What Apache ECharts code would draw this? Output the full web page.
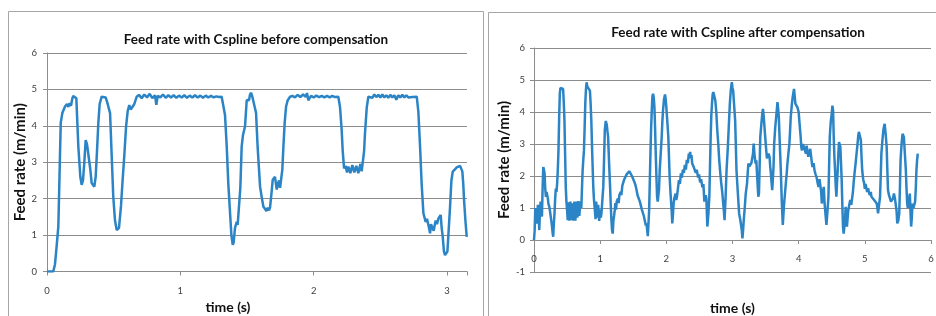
<!DOCTYPE html>
<html>
<head>
<meta charset="utf-8">
<script src="https://cdn.jsdelivr.net/npm/echarts@6/dist/echarts.min.js"></script>
<style>
  html, body { margin: 0; padding: 0; background: #fff; }
  #chart { width: 936px; height: 316px; }
</style>
</head>
<body>
<div id="chart"></div>
<script>
// before compensation (left panel)
const beforeTime = [0, 0.047, 0.06, 0.07, 0.085, 0.095, 0.103, 0.115, 0.135, 0.15, 0.16, 0.17, 0.18, 0.19, 0.197, 0.21, 0.22,
  0.235, 0.25, 0.26, 0.27, 0.28, 0.29, 0.30, 0.315, 0.325, 0.335, 0.345, 0.355, 0.365, 0.375, 0.385, 0.395, 0.41, 0.425, 0.44,
  0.455, 0.473, 0.485, 0.497, 0.51, 0.523, 0.535, 0.54, 0.555, 0.567, 0.58, 0.593, 0.605, 0.617, 0.628, 0.64, 0.655, 0.673,
  0.69, 0.71, 0.73, 0.75, 0.77, 0.79, 0.81, 0.82, 0.83, 0.85, 0.87, 0.89, 0.91, 0.93, 0.95, 0.97, 0.99, 1.01, 1.03, 1.05, 1.07,
  1.09, 1.11, 1.13, 1.15, 1.17, 1.19, 1.21, 1.23, 1.25, 1.27, 1.29, 1.31, 1.323,
  1.335, 1.348, 1.36, 1.373, 1.383, 1.393, 1.40, 1.41, 1.423, 1.43, 1.44, 1.45, 1.46, 1.47, 1.485, 1.498, 1.507, 1.515, 1.522,
  1.53, 1.54, 1.55, 1.568, 1.58, 1.598, 1.61, 1.623, 1.635, 1.645, 1.655, 1.665, 1.673, 1.685, 1.693, 1.71, 1.723, 1.732, 1.74,
  1.748, 1.755, 1.765, 1.773, 1.783, 1.793, 1.805, 1.823,
  1.84, 1.86, 1.88, 1.90, 1.92, 1.94, 1.95, 1.96, 1.98, 2.00, 2.02, 2.04, 2.06, 2.08, 2.10, 2.12, 2.14, 2.16, 2.185,
  2.198, 2.21, 2.218, 2.228, 2.24, 2.25, 2.26, 2.275, 2.29, 2.305, 2.32, 2.335, 2.35, 2.36, 2.368, 2.378, 2.385, 2.398, 2.41,
  2.425, 2.44, 2.455, 2.47, 2.485, 2.5, 2.515, 2.53, 2.545, 2.56, 2.575, 2.59, 2.605, 2.62, 2.635, 2.65, 2.665, 2.68, 2.695,
  2.71, 2.725, 2.74, 2.755, 2.773,
  2.785, 2.798, 2.81, 2.823, 2.84, 2.85, 2.858, 2.865, 2.873, 2.88, 2.89, 2.9, 2.908, 2.915, 2.925, 2.935, 2.945, 2.953, 2.96,
  2.968, 2.977, 2.985, 2.995, 3.003, 3.012, 3.023, 3.033, 3.043, 3.058, 3.073, 3.085, 3.098, 3.108, 3.115, 3.122, 3.128, 3.138, 3.148];
const beforeRate = [0, 0, 0.2, 0.6, 1.23, 2.8, 4.08, 4.35, 4.53, 4.6, 4.52, 4.62, 4.55, 4.75, 4.82, 4.8, 4.76,
  3.43, 2.6, 2.38, 2.5, 3.0, 3.61, 3.5, 3.45, 2.8, 2.43, 2.38, 2.33, 2.6, 3.3, 4.08, 4.6, 4.8, 4.76, 4.78,
  4.6, 4.35, 3.2, 2.06, 1.4, 1.14, 1.12, 1.2, 1.8, 2.5, 3.2, 3.98, 4.4, 4.57, 4.45, 4.4, 4.6, 4.8,
  4.85, 4.76, 4.86, 4.78, 4.88, 4.76, 4.84, 4.58, 4.82, 4.78, 4.86, 4.77, 4.84, 4.78, 4.84, 4.77, 4.83, 4.78, 4.84, 4.77, 4.83,
  4.78, 4.84, 4.78, 4.83, 4.77, 4.83, 4.78, 4.82, 4.78, 4.81, 4.79, 4.8, 4.78,
  4.3, 3.43, 2.4, 1.6, 1.0, 0.73, 0.8, 1.2, 1.36, 1.28, 1.3, 2.3, 3.43, 3.75, 3.98, 4.71, 4.76, 4.7, 4.85,
  4.91, 4.8, 4.76, 4.35, 3.4, 2.33, 2.05, 1.78, 1.72, 1.66, 1.75, 1.68, 1.76, 2.2, 2.52, 2.6, 2.25, 2.4, 2.5,
  2.3, 2.33, 2.8, 3.43, 4.1, 4.53, 4.7, 4.8,
  4.82, 4.78, 4.85, 4.79, 4.86, 4.8, 4.9, 4.7, 4.82, 4.78, 4.83, 4.79, 4.82, 4.78, 4.82, 4.78, 4.82, 4.79, 4.8,
  4.5, 3.89, 3.3, 2.83, 2.9, 2.72, 2.88, 2.7, 2.92, 2.72, 2.9, 2.7, 2.95, 2.75, 2.8, 3.3, 3.8, 4.5, 4.8,
  4.84, 4.77, 4.86, 4.79, 4.85, 4.78, 4.86, 4.78, 4.84, 4.77, 4.85, 4.78, 4.84, 4.72, 4.84, 4.78, 4.85, 4.78, 4.84,
  4.78, 4.83, 4.79, 4.82, 4.8,
  4.4, 3.43, 2.4, 1.6, 1.36, 1.45, 1.4, 1.2, 1.05, 1.3, 1.3, 1.12, 1.08, 1.4, 1.3, 1.45, 1.5, 1.55, 1.2,
  0.96, 0.55, 0.45, 0.5, 0.55, 1.1, 1.78, 2.5, 2.74, 2.8, 2.86, 2.88, 2.9, 2.85, 2.75, 2.4, 1.96, 1.4, 0.95];

// after compensation (right panel)
const afterTime = [0, 0.01, 0.02, 0.03, 0.04, 0.05, 0.058, 0.065, 0.072, 0.08, 0.09, 0.10, 0.11, 0.12, 0.13, 0.14, 0.15, 0.16,
  0.17, 0.18, 0.19, 0.20, 0.21, 0.217, 0.23, 0.24, 0.255, 0.267, 0.28, 0.29, 0.30, 0.31, 0.32, 0.33, 0.34, 0.35, 0.36, 0.37,
  0.38, 0.39, 0.40, 0.41, 0.42, 0.43, 0.44, 0.45, 0.46, 0.47, 0.48, 0.49, 0.50, 0.51, 0.52, 0.535, 0.55, 0.565, 0.58, 0.595,
  0.61, 0.625, 0.64, 0.655, 0.67, 0.685, 0.70, 0.715, 0.725, 0.735, 0.745, 0.755, 0.765, 0.775, 0.785, 0.795, 0.805, 0.815,
  0.83, 0.845, 0.855, 0.866, 0.88, 0.896, 0.905, 0.92, 0.93, 0.94, 0.955, 0.97, 0.985, 1.0, 1.01, 1.02, 1.035, 1.047, 1.06,
  1.07, 1.085, 1.1, 1.11, 1.12, 1.135, 1.15, 1.16, 1.17, 1.18, 1.19, 1.2, 1.21, 1.22, 1.23, 1.24, 1.25, 1.26, 1.27, 1.28,
  1.29, 1.30, 1.31, 1.32, 1.335, 1.35, 1.365, 1.38, 1.40, 1.42, 1.44, 1.46, 1.48, 1.50, 1.52, 1.535, 1.55, 1.565, 1.58, 1.60,
  1.615, 1.63, 1.65, 1.66, 1.675, 1.69, 1.70, 1.72, 1.73, 1.74, 1.75, 1.76, 1.77, 1.78, 1.79, 1.80, 1.81, 1.82, 1.83, 1.84,
  1.85, 1.86, 1.87, 1.88, 1.89, 1.90, 1.915, 1.93, 1.94, 1.95, 1.965, 1.98, 1.99, 2.0, 2.015, 2.03, 2.04, 2.05, 2.065, 2.08,
  2.09, 2.10, 2.11, 2.12, 2.14, 2.15, 2.16, 2.175, 2.19, 2.205, 2.22, 2.235, 2.25, 2.265, 2.28, 2.295, 2.31, 2.325, 2.34,
  2.35, 2.36, 2.37, 2.38, 2.39, 2.40, 2.41, 2.43, 2.445, 2.46, 2.48, 2.495, 2.51, 2.525, 2.545, 2.56, 2.575, 2.585, 2.595,
  2.605, 2.62, 2.635, 2.65, 2.66, 2.67, 2.68, 2.69, 2.70, 2.71, 2.725, 2.74, 2.755, 2.77, 2.785, 2.80, 2.815, 2.83, 2.845,
  2.86, 2.87, 2.88, 2.895, 2.91, 2.93, 2.945, 2.96, 2.975, 2.99, 3.00, 3.01, 3.025, 3.04, 3.05, 3.06, 3.08, 3.10, 3.12, 3.14,
  3.15, 3.16, 3.17, 3.185, 3.20, 3.21, 3.22, 3.23, 3.24, 3.255, 3.27, 3.285, 3.30, 3.31, 3.32, 3.335, 3.35, 3.36, 3.375,
  3.39, 3.40, 3.41, 3.42, 3.435, 3.45, 3.46, 3.47, 3.48, 3.495, 3.51, 3.52, 3.53, 3.545, 3.56, 3.57, 3.58, 3.59, 3.60, 3.61,
  3.62, 3.63, 3.645, 3.66, 3.68, 3.69, 3.70, 3.715, 3.73, 3.745, 3.76, 3.77, 3.78, 3.795, 3.81, 3.82, 3.83, 3.845, 3.86,
  3.87, 3.88, 3.895, 3.91, 3.92, 3.93, 3.94, 3.95, 3.965, 3.98, 3.99, 4.0, 4.015, 4.03, 4.04, 4.05, 4.065, 4.08, 4.095, 4.11,
  4.12, 4.13, 4.145, 4.16, 4.175, 4.19, 4.20, 4.21, 4.225, 4.24, 4.255, 4.27, 4.285, 4.30, 4.315, 4.33, 4.34, 4.35, 4.365,
  4.38, 4.39, 4.40, 4.41, 4.42, 4.435, 4.45, 4.46, 4.47, 4.485, 4.50, 4.51, 4.52, 4.53, 4.54, 4.55, 4.56, 4.57, 4.58, 4.59,
  4.60, 4.61, 4.62, 4.63, 4.64, 4.65, 4.66, 4.67, 4.68, 4.69, 4.70, 4.71, 4.72, 4.73, 4.74, 4.75, 4.765, 4.78, 4.795, 4.81,
  4.82, 4.83, 4.845, 4.86, 4.875, 4.89, 4.90, 4.91, 4.925, 4.94, 4.95, 4.96, 4.975, 4.99, 5.0, 5.01, 5.02, 5.035, 5.05, 5.06,
  5.075, 5.09, 5.10, 5.115, 5.13, 5.14, 5.155, 5.17, 5.18, 5.19, 5.20, 5.215, 5.23, 5.24, 5.25, 5.265, 5.28, 5.29, 5.30,
  5.315, 5.33, 5.34, 5.35, 5.365, 5.38, 5.395, 5.41, 5.425, 5.44, 5.455, 5.47, 5.48, 5.49, 5.505, 5.52, 5.53, 5.54, 5.555,
  5.57, 5.58, 5.59, 5.605, 5.62, 5.63, 5.64, 5.65, 5.66, 5.67, 5.68, 5.69, 5.70, 5.71, 5.72, 5.735, 5.75, 5.76, 5.77, 5.78,
  5.79, 5.80];
const afterRate = [0, 0.3, 1.0, 0.93, 0.6, 0.52, 1.1, 1.14, 0.7, 0.31, 0.9, 1.2, 1.0, 0.73, 1.6, 2.28, 2.2, 2.08,
  1.6, 1.35, 1.5, 1.45, 1.3, 1.14, 1.05, 0.93, 0.7, 0.52, 0.25, 0.1, 0.5, 0.83, 1.3, 1.61, 1.5, 1.77, 2.2, 2.8,
  3.8, 4.57, 4.75, 4.72, 4.8, 4.78, 4.72, 4.3, 3.74, 2.7, 1.66, 1.2, 0.93, 0.62, 1.18, 0.6, 1.2, 0.62, 1.15, 0.6,
  1.2, 0.6, 1.2, 0.7, 1.22, 0.75, 1.2, 1.0, 1.6, 2.18, 2.5, 2.8, 3.5, 4.26, 4.7, 4.93, 4.8, 4.78,
  4.8, 4.67, 4.3, 3.74, 2.7, 1.66, 1.3, 0.93, 0.65, 1.2, 0.7, 1.1, 0.6, 0.95, 0.7, 0.85, 1.3, 1.66, 2.6,
  3.43, 3.72, 3.6, 3.4, 3.22, 2.4, 1.66, 1.1, 0.62, 0.3, 0.2, 0.6, 0.75, 0.93, 1.15, 0.95, 1.2, 1.14, 1.3, 1.15,
  1.4, 1.35, 1.5, 1.4, 1.7, 1.66, 1.9, 1.85, 2.05, 2.0, 2.15, 2.1, 2.0, 2.05, 1.8, 1.7, 1.56, 1.4, 1.35, 1.2,
  1.15, 0.95, 0.93, 0.75, 0.7, 0.45, 0.52, 0.12, 0.5, 0.93, 1.8, 2.7, 3.5, 4.05, 4.5, 4.57, 4.45, 4.15, 3.5, 2.7,
  2.0, 1.35, 1.2, 1.25, 1.6, 2.18, 2.7, 3.22, 3.7, 4.05, 4.4, 4.55, 4.4, 4.15, 3.7, 3.22, 2.6, 1.97, 1.4, 0.93,
  0.52, 0.8, 1.14, 1.3, 1.45, 1.25, 1.35, 1.6, 1.87, 1.75, 2.08, 1.95, 2.2, 2.1, 2.35, 2.2, 2.5, 2.4, 2.7,
  2.6, 2.75, 2.55, 2.65, 2.4, 2.45, 2.3, 2.35, 2.1, 2.2, 1.95, 2.05, 1.8, 1.9, 1.65, 1.75, 1.2, 1.14, 1.4,
  1.3, 0.42, 0.8, 1.35, 2.3, 3.22, 3.9, 4.26, 4.55, 4.62, 4.5, 4.36, 4.0, 3.43, 3.0, 2.49, 2.1, 1.77, 1.5,
  1.14, 0.9, 0.62, 1.3, 2.18, 2.91, 3.6, 4.26, 4.7, 4.93, 4.75, 4.67, 4.2, 3.74, 3.0, 2.18, 1.5, 0.83, 0.6, 0.31,
  0.05, 0.3, 0.62, 1.0, 1.45, 1.5, 1.77, 2.1, 2.39, 2.3, 2.28, 2.4, 2.44, 2.7, 3.01, 2.6, 2.39, 2.49, 1.9,
  1.35, 1.45, 2.3, 3.22, 3.6, 3.95, 4.1, 3.9, 3.63, 3.2, 2.8, 2.55, 2.49, 2.7, 2.6, 2.3, 2.08, 1.8, 1.56, 1.9,
  2.28, 3.01, 3.5, 3.84, 4.31, 4.1, 3.84, 3.0, 2.18, 1.2, 0.47, 0.8, 1.14, 1.5, 1.87, 2.1, 2.39, 2.7, 3.01,
  3.4, 3.84, 4.2, 4.47, 4.6, 4.72, 4.5, 4.26, 4.2, 4.15, 4.1, 4.0, 3.6, 3.22, 2.9, 2.8, 3.0, 3.01, 2.8, 2.7,
  2.95, 2.91, 2.6, 2.6, 2.85, 2.8, 2.4, 2.28, 2.4, 2.18, 2.05, 1.97, 1.8, 1.66, 1.9, 1.87, 1.5, 1.14, 1.5,
  1.66, 1.2, 0.93, 0.7, 0.47, 0.9, 1.35, 2.3, 3.22, 3.7, 3.95, 4.2, 4.05, 3.22, 2.6, 2.18, 1.7, 1.35, 1.8, 2.18,
  2.7, 3.06, 3.0, 2.91, 2.4, 1.87, 1.1, 0.42, 0.2, 0.16, 0.6, 1.04, 0.7, 0.42, 0.7, 0.93, 1.1, 1.25, 1.1, 1.14,
  1.5, 1.77, 2.1, 2.39, 2.7, 3.01, 3.25, 3.38, 3.25, 3.12, 2.6, 2.18, 1.9, 1.77, 1.6, 1.75, 1.66, 1.5, 1.62, 1.5,
  1.4, 1.5, 1.35, 1.3, 1.4, 1.25, 1.2, 1.3, 1.14, 1.0, 0.83, 1.1, 1.35, 2.0, 2.7, 3.1, 3.43, 3.55, 3.63,
  3.3, 2.91, 2.2, 1.56, 1.4, 1.35, 1.2, 1.14, 1.3, 1.45, 1.3, 1.35, 0.9, 0.52, 0.6, 0.83, 1.6, 2.49, 3.0,
  3.32, 3.3, 3.22, 2.7, 2.18, 1.6, 1.14, 1.0, 1.04, 1.3, 1.45, 0.9, 0.42, 0.7, 1.14, 1.0, 1.04, 1.2, 1.6, 2.18,
  2.5, 2.7];

const titles = ['Feed rate with Cspline before compensation', 'Feed rate with Cspline after compensation'];
const yName = 'Feed rate (m/min)';
const xName = 'time (s)';

const font = 'Lato, "Open Sans", sans-serif';
const lineColor = '#2b84c5';
const gridColor = '#8c8c8c';

function pairs(xs, ys) {
  return xs.map((x, i) => [x, ys[i]]);
}

function valueAxis(extra) {
  return Object.assign({
    type: 'value',
    axisLine: { show: true, lineStyle: { color: gridColor } },
    axisTick: { show: true, length: 4, lineStyle: { color: gridColor } },
    axisLabel: { color: '#404040', fontSize: 9.5, fontFamily: font },
    splitLine: { show: false },
    nameLocation: 'middle',
    nameTextStyle: { color: '#111', fontSize: 15, fontWeight: 'bold', fontFamily: font }
  }, extra);
}

let mychart = echarts.init(document.getElementById('chart'));
const option = {
  animation: false,
  backgroundColor: '#fff',
  title: [
    { text: titles[0], left: 251, top: 28, textAlign: 'center',
      textStyle: { fontSize: 13.5, fontWeight: 'bold', fontFamily: font, color: '#111' } },
    { text: titles[1], left: 733, top: 21, textAlign: 'center',
      textStyle: { fontSize: 13.5, fontWeight: 'bold', fontFamily: font, color: '#111' } }
  ],
  graphic: [
    { type: 'rect', shape: { x: 8.5, y: 11.5, width: 475, height: 330 },
      style: { fill: null, stroke: '#a6a6a6', lineWidth: 1 }, silent: true },
    { type: 'rect', shape: { x: 488.5, y: 12.5, width: 470, height: 330 },
      style: { fill: null, stroke: '#a6a6a6', lineWidth: 1 }, silent: true }
  ],
  grid: [
    { left: 47, top: 53, width: 420, height: 218.5, containLabel: false, outerBoundsMode: 'none' },
    { left: 534, top: 48, width: 397, height: 224, containLabel: false, outerBoundsMode: 'none' }
  ],
  xAxis: [
    valueAxis({
      gridIndex: 0, min: 0, max: 3.15, interval: 1,
      name: xName, nameGap: 28,
      nameTextStyle: { color: '#111', fontSize: 14, fontWeight: 'bold', fontFamily: font, padding: [0, 58, 0, 0] },
      axisLabel: { color: '#404040', fontSize: 9.5, fontFamily: font, margin: 14,
        formatter: v => (Number.isInteger(v) ? String(v) : '') }
    }),
    valueAxis({
      // axis line sits on the zero gridline (one unit above the -1 bottom)
      gridIndex: 1, min: 0, max: 6, interval: 1, offset: -32,
      name: xName, nameGap: 61,
      nameTextStyle: { color: '#111', fontSize: 14, fontWeight: 'bold', fontFamily: font },
      axisLabel: { color: '#404040', fontSize: 9.5, fontFamily: font, margin: 14 }
    })
  ],
  yAxis: [
    valueAxis({
      gridIndex: 0, min: 0, max: 6, interval: 1,
      name: yName, nameGap: 17,
      axisLabel: { color: '#404040', fontSize: 9.5, fontFamily: font, margin: 10 },
      splitLine: { show: true, lineStyle: { color: gridColor, width: 1 } }
    }),
    valueAxis({
      gridIndex: 1, min: -1, max: 6, interval: 1,
      name: yName, nameGap: 18,
      axisLabel: { color: '#404040', fontSize: 9.5, fontFamily: font, margin: 9 },
      splitLine: { show: true, lineStyle: { color: gridColor, width: 1 } }
    })
  ],
  series: [
    {
      type: 'line', xAxisIndex: 0, yAxisIndex: 0,
      data: pairs(beforeTime, beforeRate),
      showSymbol: false, symbol: 'none',
      lineStyle: { color: lineColor, width: 2.5 }
    },
    {
      type: 'line', xAxisIndex: 1, yAxisIndex: 1,
      data: pairs(afterTime, afterRate),
      showSymbol: false, symbol: 'none',
      lineStyle: { color: lineColor, width: 2.5 }
    }
  ]
};
mychart.setOption(option);
</script>
</body>
</html>
